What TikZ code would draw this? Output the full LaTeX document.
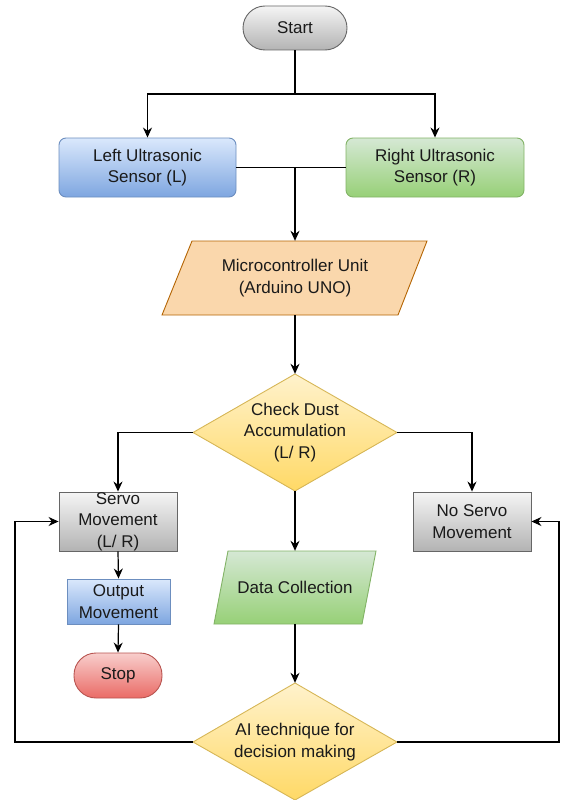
\documentclass[tikz,border=0pt]{standalone}
\usepackage{fontspec}
\setmainfont{Liberation Sans}
\usetikzlibrary{arrows.meta}
\definecolor{grayT}{HTML}{F5F5F5}\definecolor{grayB}{HTML}{B3B3B3}\definecolor{grayD}{HTML}{666666}
\definecolor{blueT}{HTML}{DAE8FC}\definecolor{blueB}{HTML}{7EA6E0}\definecolor{blueD}{HTML}{6C8EBF}
\definecolor{greenT}{HTML}{D5E8D4}\definecolor{greenB}{HTML}{97D077}\definecolor{greenD}{HTML}{82B366}
\definecolor{orangeF}{HTML}{FAD7AC}\definecolor{orangeD}{HTML}{B46504}
\definecolor{yellowT}{HTML}{FFF2CC}\definecolor{yellowB}{HTML}{FFD966}\definecolor{yellowD}{HTML}{D6B656}
\definecolor{redT}{HTML}{F8CECC}\definecolor{redB}{HTML}{EA6B66}\definecolor{redD}{HTML}{B85450}
\definecolor{txt}{HTML}{1A1A1A}
\begin{document}
\begin{tikzpicture}[x=1pt,y=-1pt,
  lbl/.style={inner sep=0pt, align=center, text=txt, font=\fontsize{17}{21.5}\selectfont},
  box/.style={lbl, draw, line width=0.9pt},
  graybox/.style={top color=grayT, bottom color=grayB, draw=grayD},
  bluebox/.style={top color=blueT, bottom color=blueB, draw=blueD},
  greenbox/.style={top color=greenT, bottom color=greenB, draw=greenD},
  yellowbox/.style={top color=yellowT, bottom color=yellowB, draw=yellowD, line width=0.9pt},
  redbox/.style={top color=redT, bottom color=redB, draw=redD},
  orangebox/.style={fill=orangeF, draw=orangeD, line width=0.9pt},
  arr/.style={-{Stealth[length=10pt,width=9pt]}, line width=1.2pt, draw=black},
  ln/.style={line width=1.2pt, draw=black}]
\useasboundingbox (0,0) rectangle (560,800);

% terminators and boxes
\node[box, graybox, rounded corners=22pt, minimum width=104pt, minimum height=44pt] (start) at (295,28) {Start};
\node[box, bluebox, rounded corners=7pt, minimum width=177pt, minimum height=59pt] (left) at (147.5,167.5) {Left Ultrasonic\\Sensor (L)};
\node[box, greenbox, rounded corners=7pt, minimum width=178pt, minimum height=59pt] (right) at (435,167.5) {Right Ultrasonic\\Sensor (R)};

% microcontroller parallelogram
\path[orangebox] (192,241) -- (427,241) -- (398,315) -- (162,315) -- cycle;
\node[lbl, minimum width=200pt, minimum height=74pt] (mcu) at (295,278) {Microcontroller Unit\\(Arduino UNO)};

% check diamond
\path[yellowbox] (295,374) -- (397,432.5) -- (295,491) -- (193,432.5) -- cycle;
\node[lbl, minimum width=204pt, minimum height=117pt] (chk) at (295,432.5) {Check Dust\\Accumulation\\(L/ R)};

\node[box, graybox, minimum width=118pt, minimum height=59pt] (servo) at (118,521.5) {Servo\\Movement\\(L/ R)};
\node[box, graybox, minimum width=118pt, minimum height=59pt] (noservo) at (472,521.5) {No Servo\\Movement};

% data collection parallelogram
\path[greenbox, line width=0.9pt] (228,551) -- (376,551) -- (362,624) -- (214,624) -- cycle;
\node[lbl, minimum width=140pt, minimum height=73pt] (data) at (295,587.5) {Data Collection};

\node[box, bluebox, minimum width=103pt, minimum height=45pt] (out) at (118.5,601.5) {Output\\Movement};
\node[box, redbox, rounded corners=22pt, minimum width=88pt, minimum height=45pt] (stop) at (118,675.5) {Stop};

% AI diamond
\path[yellowbox] (295,683) -- (397,742) -- (295,800) -- (193,742) -- cycle;
\node[lbl, minimum width=204pt, minimum height=118pt] (ai) at (295,742) {AI technique for\\decision making};

% connectors
\coordinate (split) at (295,94);
\coordinate (join) at (295,167.5);
\coordinate (lc) at (15,742);
\coordinate (rc) at (559,742);
\draw[ln] (start.south) -- (split);
\draw[arr] (split) -| (left.north);
\draw[arr] (split) -| (right.north);
\draw[ln] (left.east) -- (right.west);
\draw[arr] (join) -- (mcu.north);
\draw[arr] (mcu.south) -- (chk.north);
\draw[arr] (chk.west) -| (servo.north);
\draw[arr] (chk.east) -| (noservo.north);
\draw[arr] (chk.south) -- (data.north);
\draw[arr] (servo.south) -- (out.north);
\draw[arr] (out.south) -- (stop.north);
\draw[arr] (data.south) -- (ai.north);
\draw[arr] (ai.west) -- (lc) |- (servo.west);
\draw[arr] (ai.east) -- (rc) |- (noservo.east);
\end{tikzpicture}
\end{document}
